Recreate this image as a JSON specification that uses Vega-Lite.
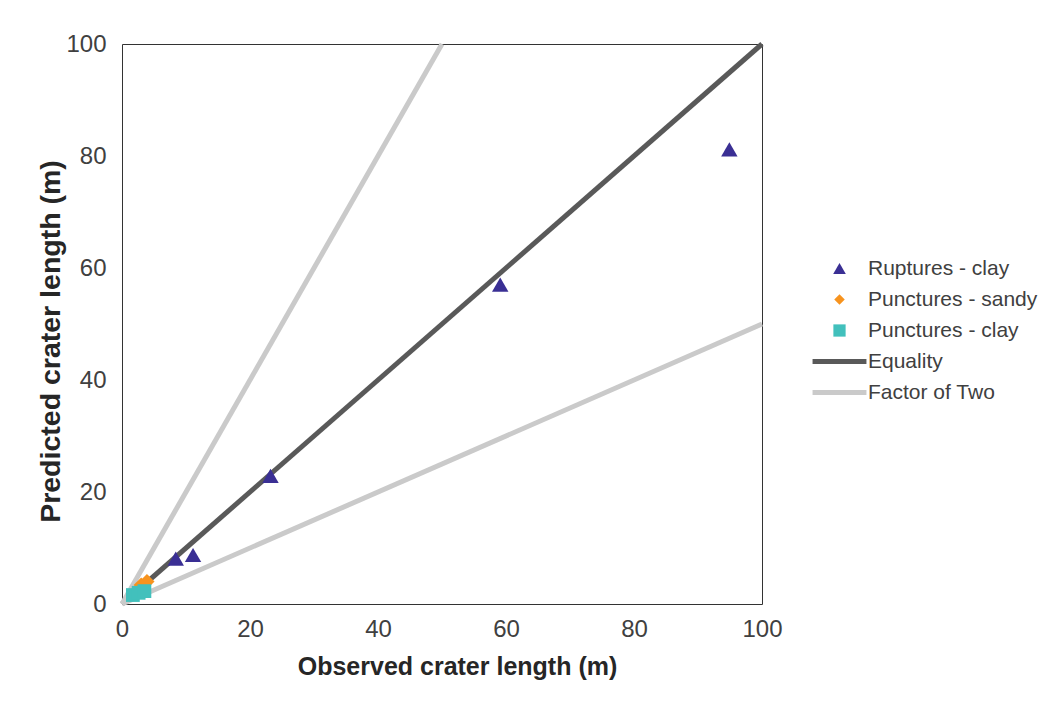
{
  "$schema": "https://vega.github.io/schema/vega-lite/v6.json",
  "autosize": "none",
  "width": 640,
  "height": 560,
  "padding": {"left": 122, "top": 44, "right": 299, "bottom": 98},
  "background": "white",
  "config": {
    "view": {"stroke": "#333333", "strokeWidth": 1},
    "font": "Liberation Sans",
    "axis": {
      "grid": false,
      "ticks": false,
      "domain": false,
      "labelFlush": false,
      "labelFont": "Liberation Sans",
      "labelFontSize": 24,
      "labelColor": "#404040",
      "titleFont": "Liberation Sans",
      "titleFontWeight": "bold",
      "titleColor": "#262626"
    }
  },
  "datasets": {
    "lines": [
      {"series": "Equality", "seg": "eq", "x": 0, "y": 0},
      {"series": "Equality", "seg": "eq", "x": 100, "y": 100},
      {"series": "Factor of Two", "seg": "upper", "x": 0, "y": 0},
      {"series": "Factor of Two", "seg": "upper", "x": 50, "y": 100},
      {"series": "Factor of Two", "seg": "lower", "x": 0, "y": 0},
      {"series": "Factor of Two", "seg": "lower", "x": 100, "y": 50}
    ],
    "points": [
      {"series": "Ruptures - clay", "x": 8.4, "y": 8.1},
      {"series": "Ruptures - clay", "x": 11.1, "y": 8.75},
      {"series": "Ruptures - clay", "x": 23.2, "y": 22.9},
      {"series": "Ruptures - clay", "x": 59.1, "y": 57.05},
      {"series": "Ruptures - clay", "x": 94.9, "y": 81.2},
      {"series": "Punctures - sandy", "x": 3.0, "y": 3.4},
      {"series": "Punctures - sandy", "x": 3.9, "y": 4.0},
      {"series": "Punctures - clay", "x": 1.7, "y": 1.6},
      {"series": "Punctures - clay", "x": 2.6, "y": 2.0},
      {"series": "Punctures - clay", "x": 3.5, "y": 2.3}
    ]
  },
  "layer": [
    {
      "data": {"name": "lines"},
      "mark": {"type": "line", "strokeWidth": 5, "strokeCap": "butt"},
      "encoding": {
        "x": {"field": "x", "type": "quantitative", "scale": {"domain": [0, 100], "nice": false}, "axis": {"values": [0, 20, 40, 60, 80, 100], "title": "Observed crater length (m)", "titleFontSize": 25, "labelPadding": 13, "titlePadding": 13, "titleX": 335}},
        "y": {"field": "y", "type": "quantitative", "scale": {"domain": [0, 100], "nice": false}, "axis": {"values": [0, 20, 40, 60, 80, 100], "title": "Predicted crater length (m)", "titleFontSize": 28.5, "labelPadding": 16, "titlePadding": 0, "titleY": 297}},
        "detail": {"field": "seg"},
        "color": {
          "field": "series",
          "type": "nominal",
          "scale": {
            "domain": ["Ruptures - clay", "Punctures - sandy", "Punctures - clay", "Equality", "Factor of Two"],
            "range": ["#3a2f94", "#f7931e", "#42c0bc", "#595959", "#cacaca"]
          },
          "legend": {
            "title": null,
            "orient": "none",
            "legendX": 707,
            "legendY": 214,
            "padding": 0,
            "symbolSize": 150,
            "labelOffset": 18,
            "labelFontSize": 21,
            "labelLimit": 400,
            "labelFont": "Liberation Sans",
            "labelColor": "#404040",
            "rowPadding": 9,
            "encode": {
              "symbols": {
                "update": {
                  "shape": {"signal": "datum.value == 'Ruptures - clay' ? 'triangle-up' : datum.value == 'Punctures - sandy' ? 'diamond' : datum.value == 'Punctures - clay' ? 'square' : 'M-4.4,0H4.4'"},
                  "size": {"signal": "datum.value == 'Ruptures - clay' ? 160 : datum.value == 'Punctures - sandy' ? 110 : 150"},
                  "fill": {"signal": "indexof(['Equality','Factor of Two'], datum.value) >= 0 ? 'transparent' : scale('color', datum.value)"},
                  "stroke": {"signal": "scale('color', datum.value)"},
                  "strokeWidth": {"signal": "indexof(['Equality','Factor of Two'], datum.value) >= 0 ? 5 : 0"},
                  "opacity": {"value": 1}
                }
              }
            }
          }
        }
      }
    },
    {
      "data": {"name": "points"},
      "mark": {"type": "point", "filled": true, "opacity": 1},
      "encoding": {
        "x": {"field": "x", "type": "quantitative"},
        "y": {"field": "y", "type": "quantitative"},
        "color": {"field": "series", "type": "nominal"},
        "shape": {
          "field": "series",
          "type": "nominal",
          "scale": {"domain": ["Ruptures - clay", "Punctures - sandy", "Punctures - clay"], "range": ["triangle-up", "diamond", "square"]},
          "legend": null
        },
        "size": {
          "field": "series",
          "type": "nominal",
          "scale": {"domain": ["Ruptures - clay", "Punctures - sandy", "Punctures - clay"], "range": [270, 190, 175]},
          "legend": null
        }
      }
    }
  ]
}
